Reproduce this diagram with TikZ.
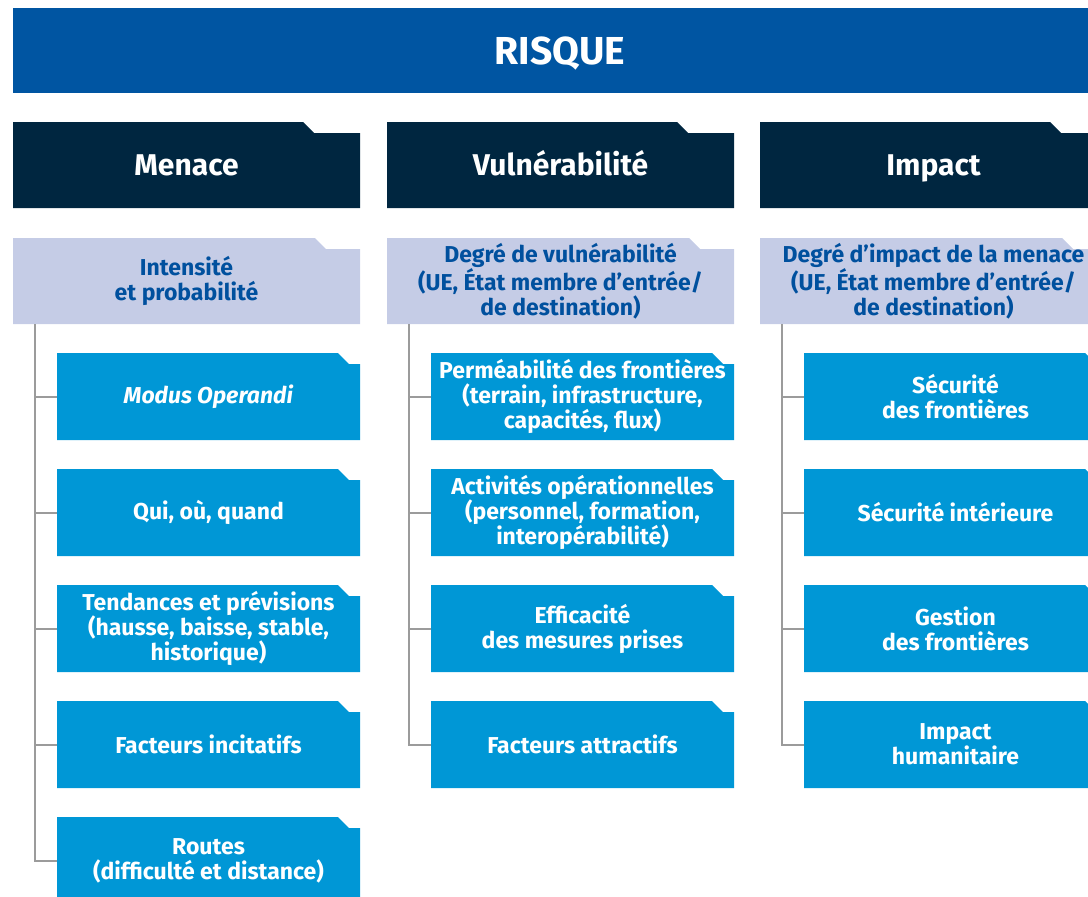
\documentclass[tikz,border=0pt]{standalone}
\usepackage{fontspec}
\setmainfont{Fira Sans}
\definecolor{risque}{HTML}{0055A2}
\definecolor{navy}{HTML}{002640}
\definecolor{lilac}{HTML}{C5CCE6}
\definecolor{sky}{HTML}{0097D6}
\definecolor{ink}{HTML}{00509E}
\definecolor{wire}{HTML}{9B9B9B}
\tikzset{
folder/.style 2 args={inner sep=0pt, align=center,
  path picture={\fill[#1] (path picture bounding box.south west)
    |- ([xshift=-#2pt]path picture bounding box.north east) -- ++(11pt,-11pt)
    -| (path picture bounding box.south east) -- cycle;}},
titlebox/.style={folder={navy}{57}, minimum width=347pt, minimum height=86pt,
  text height=20.7pt, text depth=0pt,
  text=white, font=\bfseries\fontsize{30}{34}\selectfont},
levelbox/.style={folder={lilac}{45}, minimum width=347pt, minimum height=86pt,
  text=ink, font=\bfseries\fontsize{23}{25}\selectfont},
itembox/.style={folder={sky}{22}, minimum width=303pt, minimum height=87pt,
  text=white, font=\bfseries\fontsize{23}{25}\selectfont},
branch/.style={draw=wire, line width=2pt}}
\begin{document}
\begin{tikzpicture}[x=1pt,y=-1pt]
\useasboundingbox (0,0) rectangle (1088,897);
\clip (0,0) rectangle (1088,897);
\node[fill=risque, minimum width=1094pt, minimum height=85pt, inner sep=0pt,
  text height=27pt, text depth=0pt,
  text=white, font=\bfseries\fontsize{39}{44}\selectfont] (risque) at (560,50.5) {RISQUE};
% Menace
\node[titlebox] (menace) at (186.5,165) {Menace};
\node[levelbox] (intens) at (186.5,281) {Intensité\\et probabilité};
\node[itembox] (m1) at (208.5,396.5) {\textit{Modus Operandi}};
\node[itembox] (m2) at (208.5,512.5) {Qui, où, quand};
\node[itembox] (m3) at (208.5,628.5) {Tendances et prévisions\\(hausse, baisse, stable,\\historique)};
\node[itembox] (m4) at (208.5,744.5) {Facteurs incitatifs};
\node[itembox] (m5) at (208.5,860.5) {Routes\\(difficulté et distance)};
% Vulnerabilite
\node[titlebox] (vuln) at (560.5,165) {Vulnérabilité};
\node[levelbox] (degvuln) at (560.5,281) {Degré de vulnérabilité\\(UE, État membre d’entrée/\\de destination)};
\node[itembox] (v1) at (582.5,396.5) {Perméabilité des frontières\\(terrain, infrastructure,\\capacités, flux)};
\node[itembox] (v2) at (582.5,512.5) {Activités opérationnelles\\(personnel, formation,\\interopérabilité)};
\node[itembox] (v3) at (582.5,628.5) {Efficacité\\des mesures prises};
\node[itembox] (v4) at (582.5,744.5) {Facteurs attractifs};
% Impact
\node[titlebox] (impact) at (933.5,165) {Impact};
\node[levelbox] (degimp) at (933.5,281) {Degré d’impact de la menace\\(UE, État membre d’entrée/\\de destination)};
\node[itembox] (i1) at (955.5,396.5) {Sécurité\\des frontières};
\node[itembox] (i2) at (955.5,512.5) {Sécurité intérieure};
\node[itembox] (i3) at (955.5,628.5) {Gestion\\des frontières};
\node[itembox] (i4) at (955.5,744.5) {Impact\\humanitaire};
% branches
\foreach \b in {m1,m2,m3,m4,m5}
  \draw[branch] ([xshift=22pt]intens.south west) |- (\b.west);
\foreach \b in {v1,v2,v3,v4}
  \draw[branch] ([xshift=22pt]degvuln.south west) |- (\b.west);
\foreach \b in {i1,i2,i3,i4}
  \draw[branch] ([xshift=22pt]degimp.south west) |- (\b.west);
\end{tikzpicture}
\end{document}
